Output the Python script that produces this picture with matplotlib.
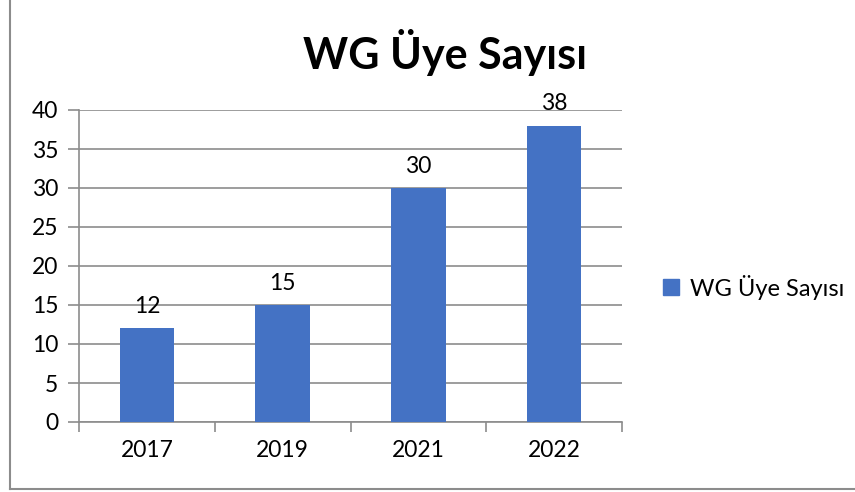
import matplotlib
matplotlib.use("Agg")
import matplotlib.pyplot as plt
from matplotlib.lines import Line2D

years = ["2017", "2019", "2021", "2022"]
members = [12, 15, 30, 38]
series_name = "WG Üye Sayısı"
y_ticks = [0, 5, 10, 15, 20, 25, 30, 35, 40]

plt.rcParams['font.family'] = ['Lato', 'DejaVu Sans']

fig = plt.figure(figsize=(8.55, 4.92), dpi=100)
ax = fig.add_axes([79 / 855, 1 - 422 / 492, (622 - 79) / 855, (422 - 110) / 492])

bar_color = "#4472C4"
grid_color = "#8c8c8c"

x = list(range(len(years)))
ax.bar(x, members, width=0.4, color=bar_color, zorder=3)
for xi, v in zip(x, members):
    ax.annotate(str(v), (xi, v), xytext=(0, 8), textcoords="offset points",
                ha="center", va="bottom", fontsize=16.5, color="#000000")

ax.set_xlim(-0.5, len(years) - 0.5)
ax.set_ylim(0, 40)
ax.set_yticks(y_ticks)
ax.set_yticklabels([str(t) for t in y_ticks], fontsize=16.5)
ax.set_xticks(x)
ax.set_xticklabels(years, fontsize=16.5)
ax.tick_params(axis="x", length=0, pad=13)
ax.tick_params(axis="y", length=8, color=grid_color, width=1.2, pad=7)

# category boundary tick marks
ax.set_xticks([i - 0.5 for i in range(len(years) + 1)], minor=True)
ax.tick_params(axis="x", which="minor", length=7, color=grid_color, width=1.2)

ax.grid(axis="y", color=grid_color, linewidth=1.2, zorder=0)
for s in ["top", "right"]:
    ax.spines[s].set_visible(False)
ax.spines["left"].set_color(grid_color)
ax.spines["bottom"].set_color(grid_color)
ax.spines["left"].set_linewidth(1.2)
ax.spines["bottom"].set_linewidth(1.2)

fig.text(445 / 855, 1 - 52 / 492, series_name, ha="center", va="center",
         fontsize=31, fontweight="bold")

handle = Line2D([], [], marker="s", linestyle="none", markersize=11,
                markerfacecolor=bar_color, markeredgecolor=bar_color)
fig.legend([handle], [series_name], loc="center left",
           bbox_to_anchor=(652 / 855, 1 - 287 / 492), frameon=False,
           fontsize=17, handletextpad=0.0, handlelength=1.6, borderaxespad=0,
           borderpad=0)

# chart border (left and bottom edges visible)
fig.add_artist(Line2D([10 / 855, 10 / 855], [1 - 489 / 492, 1.0],
                      transform=fig.transFigure, color="#8c8c8c", linewidth=1.5))
fig.add_artist(Line2D([10 / 855, 1.0], [1 - 489 / 492, 1 - 489 / 492],
                      transform=fig.transFigure, color="#8c8c8c", linewidth=1.5))

fig.savefig("out.png", dpi=100)
